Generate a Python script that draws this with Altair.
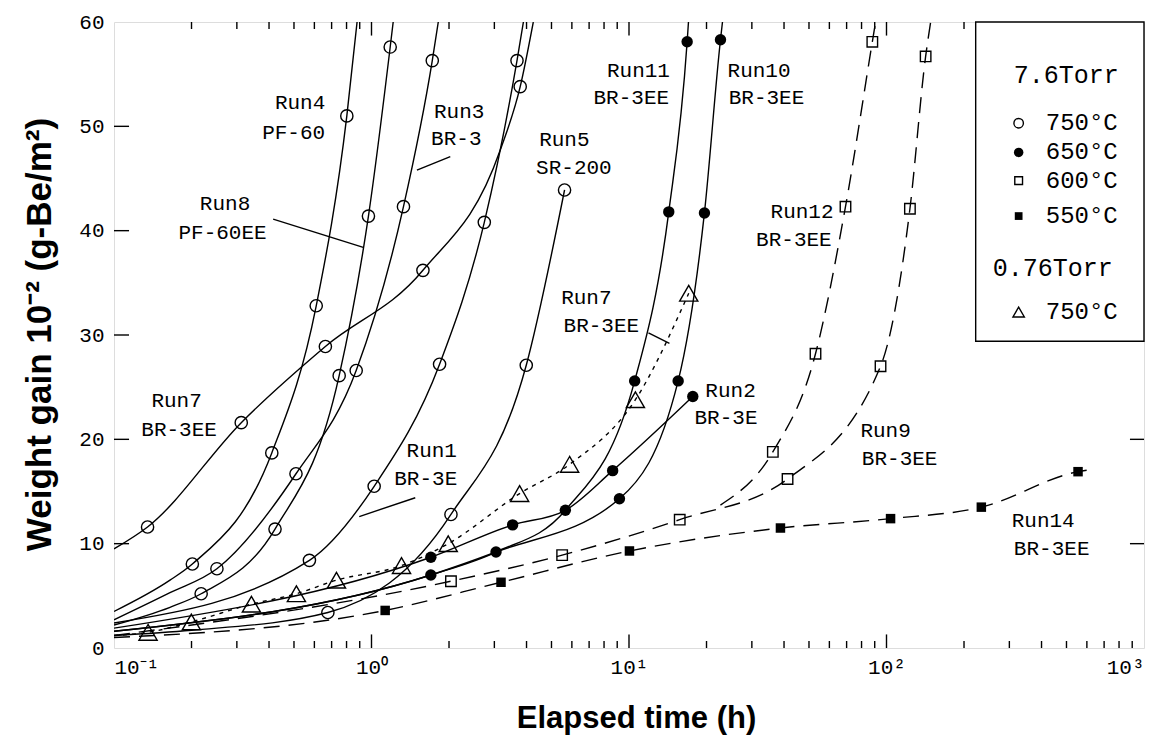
import altair as alt
import pandas as pd

# ---------------- data ----------------
# 7.6 Torr, 750 C (open circles) - measured points
run7_mx = [0.135, 0.312, 0.662, 1.584, 3.78]
run7_my = [11.6, 21.6, 28.9, 36.2, 53.8]
run4_mx = [0.2015, 0.410, 0.610, 0.802]
run4_my = [8.05, 18.7, 32.8, 51.0]
run8_mx = [0.218, 0.422, 0.749, 0.973, 1.182]
run8_my = [5.2, 11.4, 26.1, 41.4, 57.6]
run3_mx = [0.251, 0.509, 0.872, 1.331, 1.722]
run3_my = [7.6, 16.7, 26.6, 42.3, 56.3]
run1_mx = [0.574, 1.024, 1.838, 2.742, 3.673]
run1_my = [8.4, 15.5, 27.2, 40.8, 56.3]
run5_mx = [0.677, 2.035, 3.99, 5.62]
run5_my = [3.4, 12.8, 27.1, 43.9]

# 7.6 Torr, 650 C (filled circles)
run11_mx = [10.52, 14.27, 16.82]
run11_my = [25.6, 41.8, 58.1]
run10_mx = [1.70, 3.045, 9.18, 15.52, 19.63, 22.66]
run10_my = [7.0, 9.2, 14.3, 25.6, 41.7, 58.3]
run2_mx = [1.70, 3.532, 5.66, 8.64, 17.69]
run2_my = [8.7, 11.8, 13.2, 17.0, 24.1]

# 0.76 Torr, 750 C (triangles)
run7t_mx = [0.1356, 0.1997, 0.3417, 0.511, 0.731, 1.308, 1.986, 3.76, 5.88, 10.59, 17.06]
run7t_my = [1.5, 2.5, 4.2, 5.2, 6.5, 7.9, 10.0, 14.8, 17.6, 23.8, 34.0]

# 7.6 Torr, 600 C (open squares)
run9_mx = [2.035, 5.50, 15.74, 41.28, 94.8, 123.3, 141.9]
run9_my = [6.4, 8.9, 12.3, 16.2, 27.0, 42.1, 56.7]
run12_mx = [36.19, 53.0, 69.3, 88.1]
run12_my = [18.8, 28.2, 42.3, 58.1]

# 7.6 Torr, 550 C (filled squares)
run14_mx = [1.130, 3.184, 10.04, 38.74, 103.7, 233.5, 554.4]
run14_my = [3.6, 6.3, 9.3, 11.5, 12.4, 13.5, 16.9]

# fitted curves: vertices
c_run7_x = [0.1, 0.135, 0.312, 0.662, 1.584, 3.16, 3.78, 4.25]
c_run7_y = [9.5, 11.6, 21.6, 28.9, 36.2, 47.7, 53.8, 60.0]
c_run4_x = [0.1, 0.165, 0.2015, 0.410, 0.610, 0.802, 0.879]
c_run4_y = [3.5, 6.5, 8.05, 18.7, 32.8, 51.0, 60.0]
c_run8_x = [0.1, 0.165, 0.218, 0.422, 0.749, 0.973, 1.182, 1.214]
c_run8_y = [2.2, 3.9, 5.2, 11.4, 26.1, 41.4, 57.6, 60.0]
c_run3_x = [0.1, 0.165, 0.251, 0.509, 0.872, 1.331, 1.722, 1.817]
c_run3_y = [2.7, 5.3, 7.6, 16.7, 26.6, 42.3, 56.3, 60.0]
c_run1_x = [0.1, 0.574, 1.024, 1.838, 2.742, 3.673, 3.89]
c_run1_y = [2.4, 8.4, 15.5, 27.2, 40.8, 56.3, 60.0]
c_run5_x = [0.1, 0.2, 0.677, 2.035, 3.99, 5.62]
c_run5_y = [1.2, 1.7, 3.4, 12.8, 27.1, 43.9]
c_run11_x = [0.1, 1.70, 3.045, 5.66, 10.52, 14.27, 16.82, 17.02]
c_run11_y = [1.6, 7.0, 9.2, 13.2, 25.6, 41.8, 58.1, 60.0]
c_run10_x = [0.1, 1.70, 3.045, 9.18, 15.52, 19.63, 22.66, 23.07]
c_run10_y = [1.6, 7.0, 9.2, 14.3, 25.6, 41.7, 58.3, 60.0]
c_run2_x = [0.1, 1.70, 3.532, 5.66, 8.64, 17.69]
c_run2_y = [1.9, 8.7, 11.8, 13.2, 17.0, 24.1]
c_run7t_x = [0.1] + run7t_mx
c_run7t_y = [1.2] + run7t_my
c_run9_x = [0.1] + run9_mx + [148.4]
c_run9_y = [1.2] + run9_my + [60.0]
c_run12_x = [22.65] + run12_mx + [90.7]
c_run12_y = [13.7] + run12_my + [60.0]
c_run14_x = [0.1] + run14_mx + [621.0]
c_run14_y = [1.0] + run14_my + [17.1]

# annotation labels (text, x, y)
lab_text = ["Run4", "PF-60", "Run3", "BR-3", "Run8", "PF-60EE", "Run5", "SR-200",
            "Run11", "BR-3EE", "Run10", "BR-3EE", "Run12", "BR-3EE", "Run7", "BR-3EE",
            "Run1", "BR-3E", "Run7", "BR-3EE", "Run2", "BR-3E", "Run9", "BR-3EE",
            "Run14", "BR-3EE"]
lab_x = [0.528, 0.4985, 2.19, 2.135, 0.270, 0.264, 5.61, 6.11,
         10.88, 10.21, 31.99, 34.2, 46.99, 43.7, 0.175, 0.179,
         1.714, 1.624, 6.83, 7.81, 24.8, 23.8, 99.2, 112.5,
         406.0, 438.0]
lab_y = [52.2, 49.4, 51.4, 48.8, 42.6, 39.8, 48.7, 46.0,
         55.3, 52.7, 55.3, 52.7, 41.8, 39.1, 23.7, 20.9,
         18.9, 16.2, 33.5, 30.9, 24.6, 22.0, 20.8, 18.1,
         12.2, 9.5]

# pointer lines from labels to curves
ptr_x = [2.023, 0.415, 1.479, 11.9]
ptr_y = [47.1, 41.1, 14.4, 30.2]
ptr_x2 = [1.501, 0.929, 0.896, 14.36]
ptr_y2 = [45.8, 38.4, 12.6, 29.2]

# legend
leg_box = {"x": 222.0, "x2": 1000.0, "y": 29.4, "y2": 60.0}
leg_head_text = ["7.6Torr", "0.76Torr"]
leg_head_x = [499.0, 442.0]
leg_head_y = [54.9, 36.4]
leg_item_text = ["750°C", "650°C", "600°C", "550°C", "750°C"]
leg_item_y = [50.3, 47.5, 44.8, 41.4, 32.2]
leg_item_kind = ["oc", "fc", "os", "fs", "tri"]
leg_sym_x = 326.0
leg_text_x = 573.0

# axis ticks
x_major = [1, 10, 100]
x_minor = [m * d for d in [0.1, 1, 10, 100] for m in range(2, 10)]
y_major = [10, 20, 30, 40, 50]

# ---------------- chart ----------------
MONO = "Liberation Mono"
xscale = alt.Scale(type="log", domain=[0.1, 1000], nice=False)
yscale = alt.Scale(domain=[0, 60], nice=False, zero=True)

label_expr = ("datum.value < 0.5 ? '10⁻¹' : datum.value < 5 ? '10⁰' : "
              "datum.value < 50 ? '10¹' : datum.value < 500 ? '10²' : '10³'")
xaxis = alt.Axis(values=[0.1, 1, 10, 100, 1000], labelExpr=label_expr, ticks=False,
                 domain=False, grid=False, labelFont=MONO, labelFontSize=21,
                 labelPadding=8, labelColor="black",
                 title="Elapsed time (h)", titleFont="Liberation Sans",
                 titleFontSize=31, titleFontWeight="bold", titleColor="black",
                 titleX=522, titleY=70, titleAlign="center", titleBaseline="middle")
yaxis = alt.Axis(values=[0, 10, 20, 30, 40, 50, 60], ticks=False, domain=False, grid=False,
                 labelFont=MONO, labelFontSize=21, labelPadding=10, labelColor="black",
                 title="Weight gain  10⁻²  (g-Be/m²)",
                 titleFont="Liberation Sans", titleFontSize=35,
                 titleFontWeight="bold", titleColor="black", titleX=-75, titleY=312,
                 titleAngle=-90, titleAlign="center", titleBaseline="middle")


def X(f="x"):
    return alt.X(f, type="quantitative", scale=xscale, axis=xaxis)


def Y(f="y"):
    return alt.Y(f, type="quantitative", scale=yscale, axis=yaxis)


def frame(names, xs, ys):
    rows = []
    for n, xx, yy in zip(names, xs, ys):
        for a, b in zip(xx, yy):
            rows.append({"series": n, "x": a, "y": b})
    return pd.DataFrame(rows)


solid = frame(["r7", "r4", "r8", "r3", "r1", "r5", "r11", "r10", "r2"],
              [c_run7_x, c_run4_x, c_run8_x, c_run3_x, c_run1_x, c_run5_x, c_run11_x, c_run10_x, c_run2_x],
              [c_run7_y, c_run4_y, c_run8_y, c_run3_y, c_run1_y, c_run5_y, c_run11_y, c_run10_y, c_run2_y])
dotted = frame(["r7t"], [c_run7t_x], [c_run7t_y])
dashed = frame(["r9", "r12", "r14"], [c_run9_x, c_run12_x, c_run14_x], [c_run9_y, c_run12_y, c_run14_y])

oc = frame(["a"] * 6, [run7_mx, run4_mx, run8_mx, run3_mx, run1_mx, run5_mx],
           [run7_my, run4_my, run8_my, run3_my, run1_my, run5_my])
fc = frame(["b"] * 3, [run11_mx, run10_mx, run2_mx], [run11_my, run10_my, run2_my])
tri = frame(["c"], [run7t_mx], [run7t_my])
osq = frame(["d"] * 2, [run9_mx, run12_mx], [run9_my, run12_my])
fsq = frame(["e"], [run14_mx], [run14_my])

LW = 1.4
line_solid = alt.Chart(solid).mark_line(interpolate="monotone", color="black", strokeWidth=LW,
                                        clip=True).encode(x=X(), y=Y(), detail="series:N")
line_dot = alt.Chart(dotted).mark_line(interpolate="monotone", color="black", strokeWidth=LW,
                                       strokeDash=[4, 5], clip=True).encode(x=X(), y=Y(), detail="series:N")
line_dash = alt.Chart(dashed).mark_line(interpolate="monotone", color="black", strokeWidth=LW,
                                        strokeDash=[16, 9], clip=True).encode(x=X(), y=Y(), detail="series:N")

pt_oc = alt.Chart(oc).mark_point(shape="circle", filled=False, size=150, color="black",
                                 strokeWidth=LW, opacity=1).encode(x=X(), y=Y())
pt_fc = alt.Chart(fc).mark_point(shape="circle", filled=True, size=130, color="black",
                                 opacity=1).encode(x=X(), y=Y())
pt_tri = alt.Chart(tri).mark_point(shape="triangle-up", filled=False, size=330, color="black",
                                   strokeWidth=LW, opacity=1).encode(x=X(), y=Y())
pt_osq = alt.Chart(osq).mark_point(shape="square", filled=False, size=110, color="black",
                                   strokeWidth=LW, opacity=1).encode(x=X(), y=Y())
pt_fsq = alt.Chart(fsq).mark_point(shape="square", filled=True, size=90, color="black",
                                   opacity=1).encode(x=X(), y=Y())

labels = pd.DataFrame({"t": lab_text, "x": lab_x, "y": lab_y})
txt = alt.Chart(labels).mark_text(font=MONO, fontSize=21, color="black", align="center",
                                  baseline="middle").encode(x=X(), y=Y(), text="t:N")

ptr = pd.DataFrame({"x": ptr_x, "y": ptr_y, "x2": ptr_x2, "y2": ptr_y2})
pointers = alt.Chart(ptr).mark_rule(color="black", strokeWidth=LW).encode(
    x=X(), y=Y(), x2="x2:Q", y2="y2:Q")

# inward axis ticks
tick_rows = []
for v in x_minor:
    tick_rows += [{"x": v, "x2": v, "y": 0, "y2": 0.67}, {"x": v, "x2": v, "y": 60, "y2": 59.33}]
for v in x_major:
    tick_rows += [{"x": v, "x2": v, "y": 0, "y2": 1.3}, {"x": v, "x2": v, "y": 60, "y2": 58.7}]
for v in y_major:
    tick_rows += [{"x": 0.1, "x2": 0.1144, "y": v, "y2": v}, {"x": 1000, "x2": 882, "y": v, "y2": v}]
ticks = alt.Chart(pd.DataFrame(tick_rows)).mark_rule(color="black", strokeWidth=LW).encode(
    x=X(), y=Y(), x2="x2:Q", y2="y2:Q")

# legend
box = alt.Chart(pd.DataFrame([leg_box])).mark_rect(fill="white", stroke="black",
                                                   strokeWidth=LW).encode(x=X(), x2="x2:Q", y=Y(), y2="y2:Q")
heads = alt.Chart(pd.DataFrame({"t": leg_head_text, "x": leg_head_x, "y": leg_head_y})).mark_text(
    font=MONO, fontSize=25, color="black", align="center", baseline="middle").encode(x=X(), y=Y(), text="t:N")
items = pd.DataFrame({"t": leg_item_text, "y": leg_item_y, "k": leg_item_kind,
                      "x": [leg_text_x] * 5, "sx": [leg_sym_x] * 5})
item_txt = alt.Chart(items).mark_text(font=MONO, fontSize=24, color="black", align="center",
                                      baseline="middle").encode(x=X(), y=Y(), text="t:N")


def leg_sym(kind, **kw):
    return alt.Chart(items).transform_filter(alt.datum.k == kind).mark_point(
        color="black", opacity=1, **kw).encode(x=X("sx"), y=Y())


sym = (leg_sym("oc", shape="circle", filled=False, size=90, strokeWidth=LW)
       + leg_sym("fc", shape="circle", filled=True, size=90)
       + leg_sym("os", shape="square", filled=False, size=60, strokeWidth=LW)
       + leg_sym("fs", shape="square", filled=True, size=60)
       + leg_sym("tri", shape="triangle-up", filled=False, size=130, strokeWidth=LW))

chart = alt.layer(
    line_solid, line_dot, line_dash, pointers, ticks,
    pt_oc, pt_fc, pt_tri, pt_osq, pt_fsq, txt,
    box, heads, item_txt, sym,
).properties(
    width=1030, height=626,
    autosize=alt.AutoSizeParams(type="none"),
    padding={"left": 106, "top": 14, "right": 12, "bottom": 92},
).configure_view(stroke="black", strokeWidth=1.6).configure(background="white")

chart.save("out.html", embed_options={"renderer": "svg", "actions": False})
